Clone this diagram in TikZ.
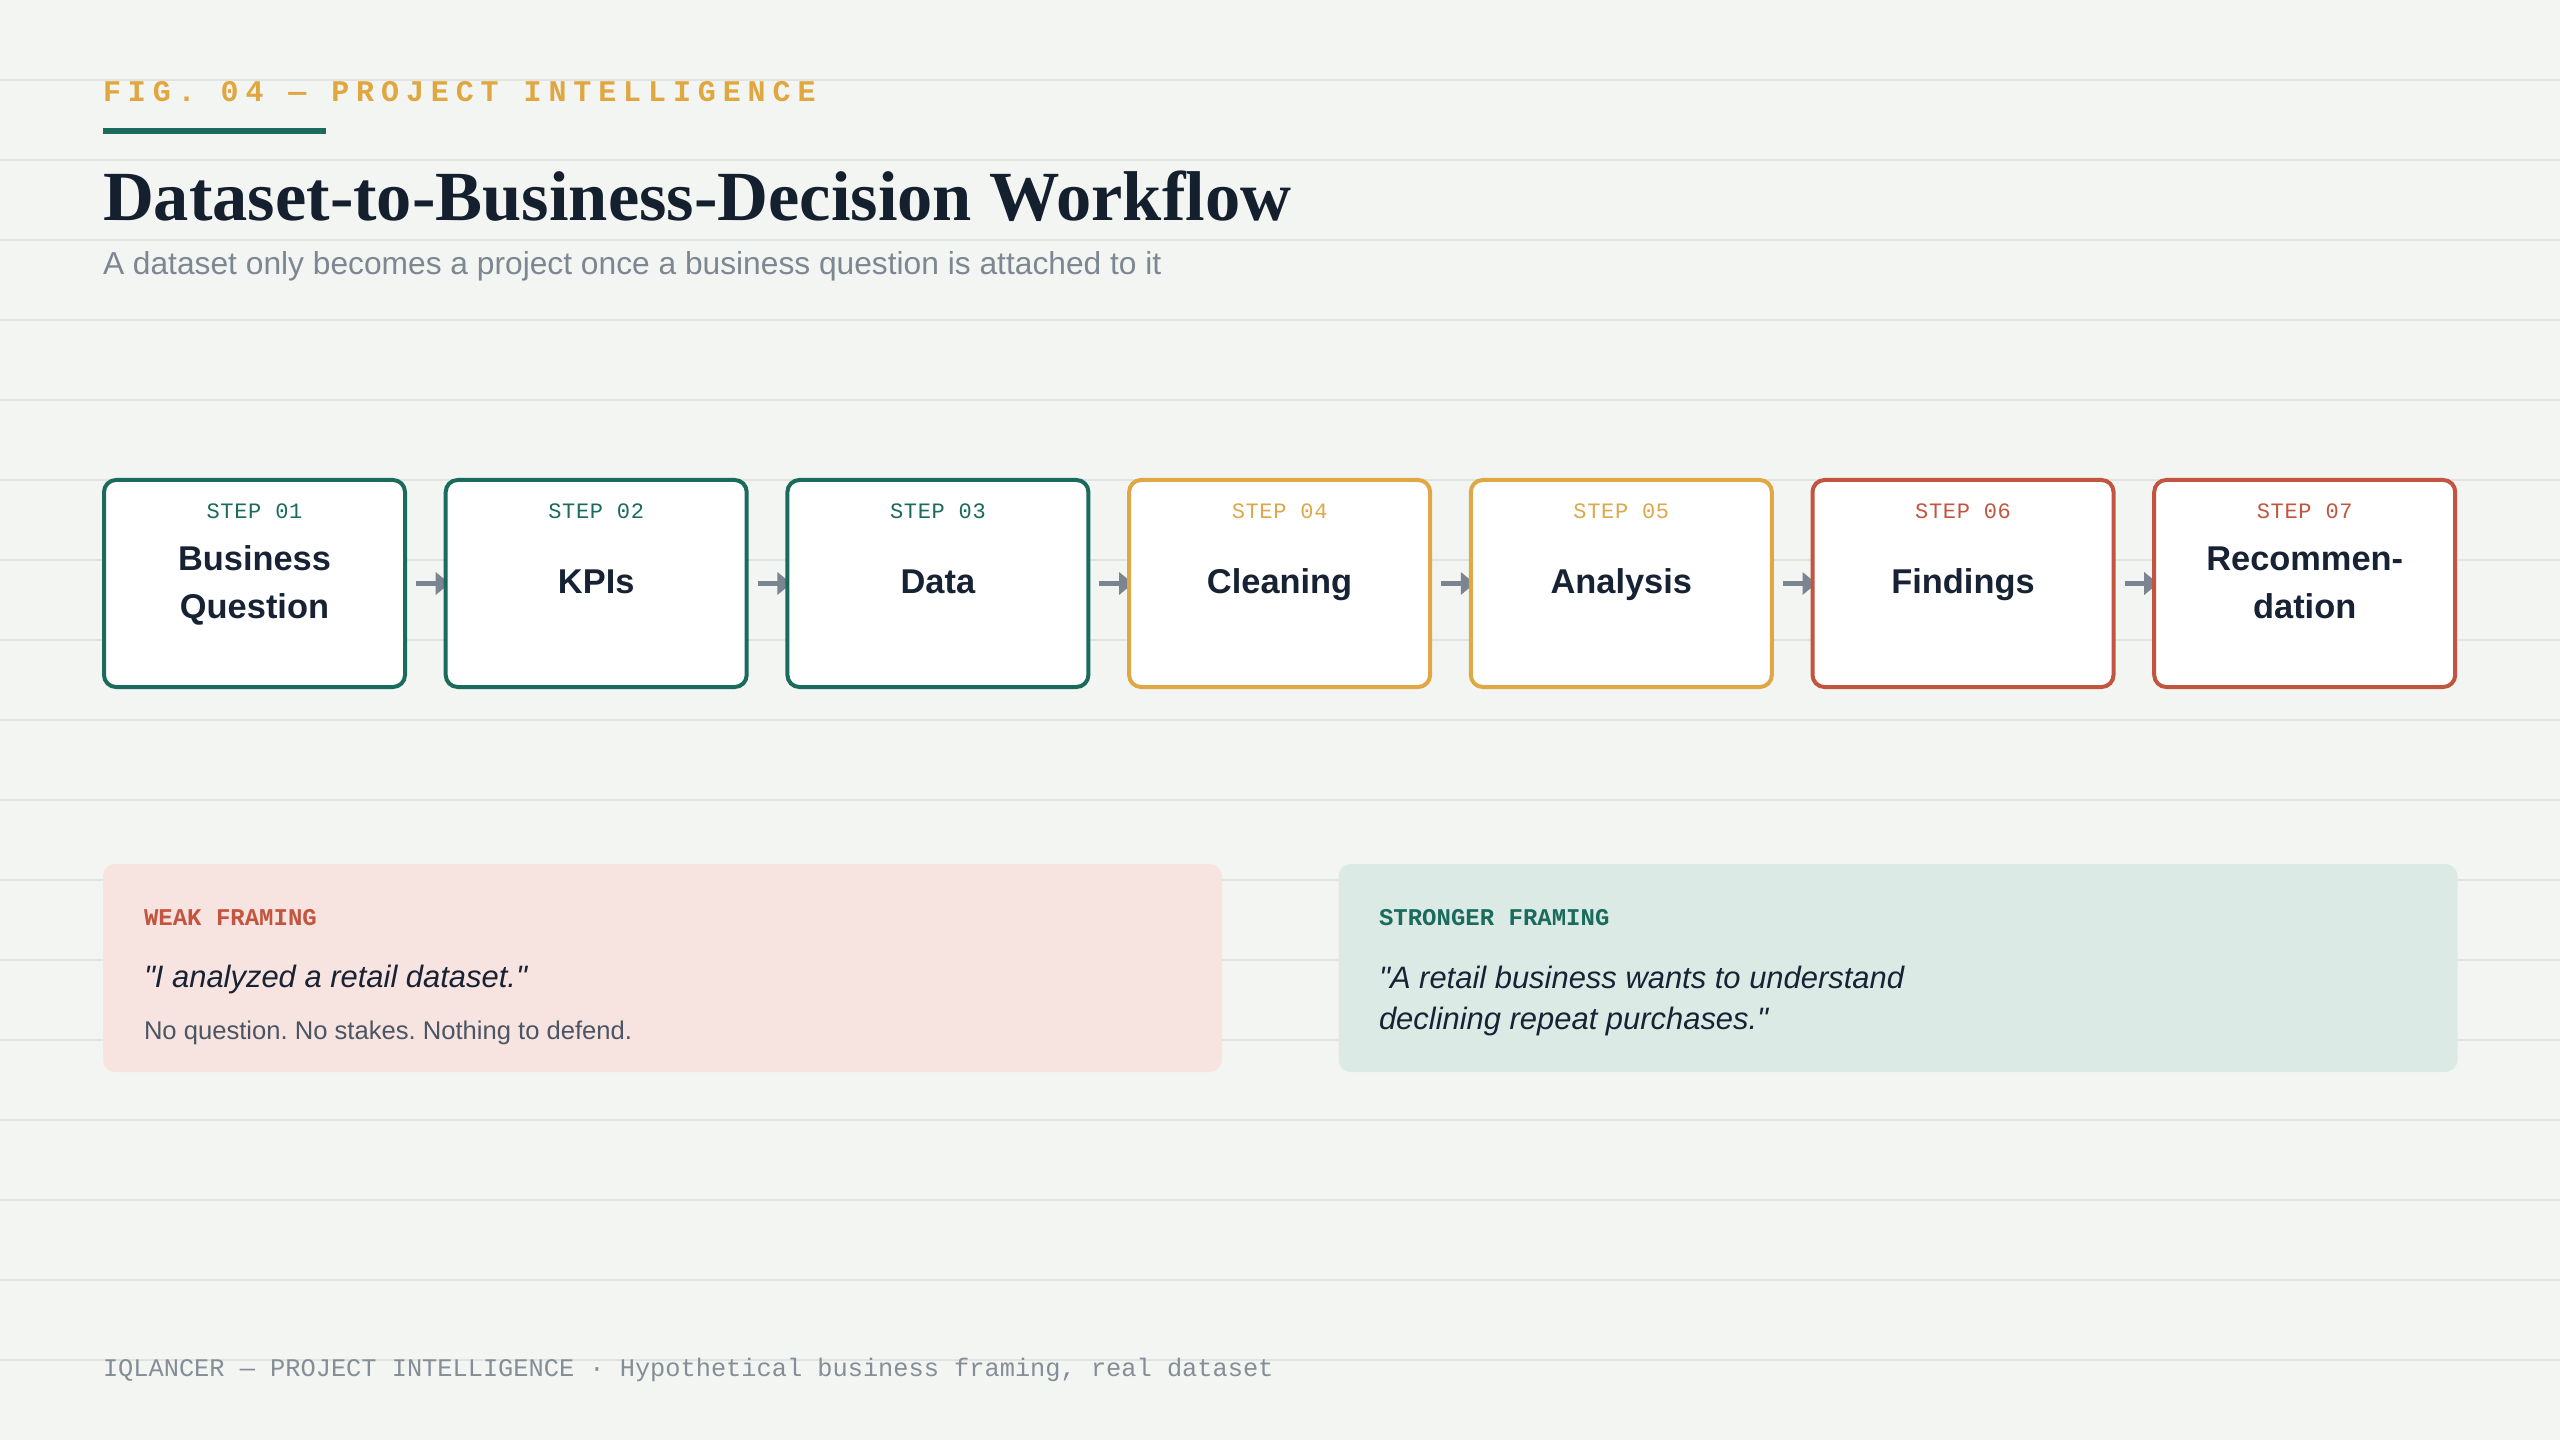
\documentclass[tikz,border=0pt]{standalone}
\usepackage{fontspec}
\setmainfont{Liberation Sans}[Ligatures=TeXOff]
\setmonofont{Liberation Mono}
\newfontfamily\titlefont{Liberation Serif}
\newfontfamily\figfont{Liberation Mono}[LetterSpace=23]
\newfontfamily\stepfont{Liberation Mono}[LetterSpace=3]
\usetikzlibrary{arrows.meta}
\pgfdeclarelayer{gridlayer}
\pgfdeclarelayer{connlayer}
\pgfsetlayers{gridlayer,connlayer,main}
\definecolor{bgc}{HTML}{F3F5F2}
\definecolor{gridc}{HTML}{E0E3DF}
\definecolor{tealc}{HTML}{1B6B5D}
\definecolor{orangec}{HTML}{E0A845}
\definecolor{orangetxt}{HTML}{DCA84C}
\definecolor{figc}{HTML}{E0A640}
\definecolor{redc}{HTML}{C2553F}
\definecolor{navyc}{HTML}{15202F}
\definecolor{labelc}{HTML}{172234}
\definecolor{subc}{HTML}{7D8792}
\definecolor{arrowc}{HTML}{7B8591}
\definecolor{notec}{HTML}{4B5563}
\definecolor{footc}{HTML}{858D96}
\definecolor{weakbg}{HTML}{F7E3DF}
\definecolor{strongbg}{HTML}{DCEAE6}
\newcommand\fsz[1]{\fontsize{#1}{#1}\selectfont}
\tikzset{
  txt/.style={inner sep=0pt, outer sep=0pt, anchor=base west},
  ctxt/.style={inner sep=0pt, outer sep=0pt, anchor=base},
  stepbox/.style={draw=#1, fill=white, line width=1.5pt, rounded corners=4.5pt,
    minimum width=112.875pt, minimum height=77.625pt, inner sep=0pt},
  steplbl/.style={ctxt, font=\stepfont\fsz{8.25pt}, text=#1},
  boxlbl/.style={ctxt, font=\bfseries\fsz{12.9pt}, text=labelc},
  panel/.style={fill=#1, draw=none, rounded corners=4.5pt,
    minimum width=419.625pt, minimum height=78pt, inner sep=0pt},
  panelhead/.style={txt, font=\ttfamily\bfseries\fsz{9pt}, text=#1},
  quote/.style={txt, font=\itshape\fsz{11.6pt}, text=labelc},
  conn/.style={draw=arrowc, line width=1.875pt,
    -{Triangle[length=5.25pt,width=8.25pt]}, shorten <=3.4pt, shorten >=-2.25pt},
}
\begin{document}
\frenchspacing
\begin{tikzpicture}[x=0.375pt, y=-0.375pt]
\useasboundingbox (0,0) rectangle (2560,1440);
\begin{pgfonlayer}{gridlayer}
  \fill[bgc] (0,0) rectangle (2560,1440);
  \foreach \k in {1,...,17} {
    \draw[gridc, line width=0.6pt] (0,80*\k) -- (2560,80*\k);
  }
\end{pgfonlayer}

% header
\node[txt, font=\figfont\bfseries\fsz{11.25pt}, text=figc] (fig) at (103,102) {FIG. 04 — PROJECT INTELLIGENCE};
\fill[tealc] (103,128) rectangle (326,134);
\node[txt, font=\titlefont\bfseries\fsz{26.43pt}, text=navyc] (title) at (103,221) {Dataset-to-Business-Decision Workflow};
\node[txt, font=\fsz{11.9pt}, text=subc] (sub) at (103,275) {A dataset only becomes a project once a business question is attached to it};

% step boxes
\node[stepbox=tealc]   (b1) at (254.5,583.5) {};
\node[stepbox=tealc]   (b2) at (596.2,583.5) {};
\node[stepbox=tealc]   (b3) at (937.9,583.5) {};
\node[stepbox=orangec] (b4) at (1279.6,583.5) {};
\node[stepbox=orangec] (b5) at (1621.3,583.5) {};
\node[stepbox=redc]    (b6) at (1963.0,583.5) {};
\node[stepbox=redc]    (b7) at (2304.7,583.5) {};

\node[steplbl=tealc]     (s1) at (254.5,518) {STEP 01};
\node[steplbl=tealc]     (s2) at (596.2,518) {STEP 02};
\node[steplbl=tealc]     (s3) at (937.9,518) {STEP 03};
\node[steplbl=orangetxt] (s4) at (1279.6,518) {STEP 04};
\node[steplbl=orangetxt] (s5) at (1621.3,518) {STEP 05};
\node[steplbl=redc]      (s6) at (1963.0,518) {STEP 06};
\node[steplbl=redc]      (s7) at (2304.7,518) {STEP 07};

\node[boxlbl] (l1a) at (254.5,570) {Business};
\node[boxlbl] (l1b) at (254.5,618) {Question};
\node[boxlbl] (l2)  at (596.2,593.5) {KPIs};
\node[boxlbl] (l3)  at (937.9,593.5) {Data};
\node[boxlbl] (l4)  at (1279.6,593.5) {Cleaning};
\node[boxlbl] (l5)  at (1621.3,593.5) {Analysis};
\node[boxlbl] (l6)  at (1963.0,593.5) {Findings};
\node[boxlbl] (l7a) at (2304.7,570) {Recommen-};
\node[boxlbl] (l7b) at (2304.7,618) {dation};

\begin{pgfonlayer}{connlayer}
  \draw[conn] (b1.east) -- (b2.west);
  \draw[conn] (b2.east) -- (b3.west);
  \draw[conn] (b3.east) -- (b4.west);
  \draw[conn] (b4.east) -- (b5.west);
  \draw[conn] (b5.east) -- (b6.west);
  \draw[conn] (b6.east) -- (b7.west);
\end{pgfonlayer}

% framing panels
\node[panel=weakbg]   (weak)   at (662.5,968) {};
\node[panel=strongbg] (strong) at (1898,968) {};

\node[panelhead=redc] (wh) at (144,925) {WEAK FRAMING};
\node[quote] (wq) at (144,987) {"I analyzed a retail dataset."};
\node[txt, font=\fsz{9.6pt}, text=notec] (wn) at (144,1039) {No question. No stakes. Nothing to defend.};

\node[panelhead=tealc] (sh) at (1379,925) {STRONGER FRAMING};
\node[quote] (sq1) at (1379,988) {"A retail business wants to understand};
\node[quote] (sq2) at (1379,1029) {declining repeat purchases."};

% footer
\node[txt, font=\ttfamily\fsz{9.5pt}, text=footc] (foot) at (103,1376) {IQLANCER — PROJECT INTELLIGENCE · Hypothetical business framing, real dataset};
\end{tikzpicture}
\end{document}
